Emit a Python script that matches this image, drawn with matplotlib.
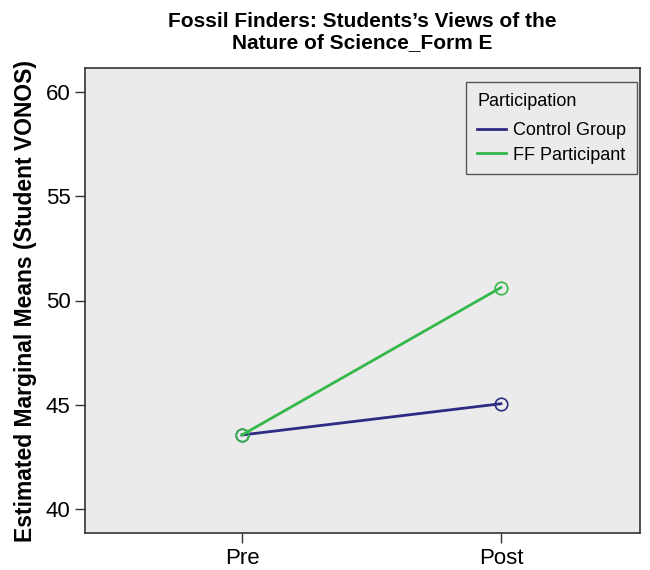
import matplotlib.pyplot as plt

plt.rcParams['font.family'] = ['Liberation Sans', 'DejaVu Sans']

times = ['Pre', 'Post']
control = [43.55, 45.05]
ff = [43.55, 50.62]
y_ticks = [40, 45, 50, 55, 60]

fig = plt.figure(figsize=(6.5, 5.7), dpi=100)
ax = fig.add_axes([85 / 650, 37 / 570, 555 / 650, 465 / 570])
ax.set_facecolor('#ebebeb')

x = range(len(times))
ax.plot(x, control, color='#2e2c82', lw=2, marker='o', ms=9,
        mfc='none', mec='#2e2c82', mew=1.2, label='Control Group')
ax.plot(x, ff, color='#34b84a', lw=2, marker='o', ms=9,
        mfc='none', mec='#34b84a', mew=1.2, label='FF Participant')

ax.set_xlim(-0.606, 1.537)
ax.set_ylim(38.85, 61.15)
ax.set_xticks(list(x))
ax.set_xticklabels(times)
ax.set_yticks(y_ticks)
ax.tick_params(labelsize=16, length=7, width=1, color='#333333', direction='out')
for s in ax.spines.values():
    s.set_color('#333333')
    s.set_linewidth(1.2)

ax.set_ylabel('Estimated Marginal Means (Student VONOS)', fontsize=16.5,
              fontweight='bold', labelpad=6)
ax.set_title("Fossil Finders: Students\u2019s Views of the\nNature of Science_Form E",
             fontsize=15, fontweight='bold', pad=14)

leg = ax.legend(title='Participation', loc='upper right', fontsize=13,
                title_fontsize=13, frameon=True, fancybox=False,
                edgecolor='#333333', facecolor='#ebebeb', handlelength=1.6,
                handletextpad=0.4, borderpad=0.6, labelspacing=0.4,
                borderaxespad=0, bbox_to_anchor=(0.995, 0.97))
leg._legend_box.align = 'left'
leg._legend_box.sep = 9
leg.get_frame().set_linewidth(1.0)
for h in leg.legend_handles:
    h.set_marker('')

fig.savefig('out.png', dpi=100)
